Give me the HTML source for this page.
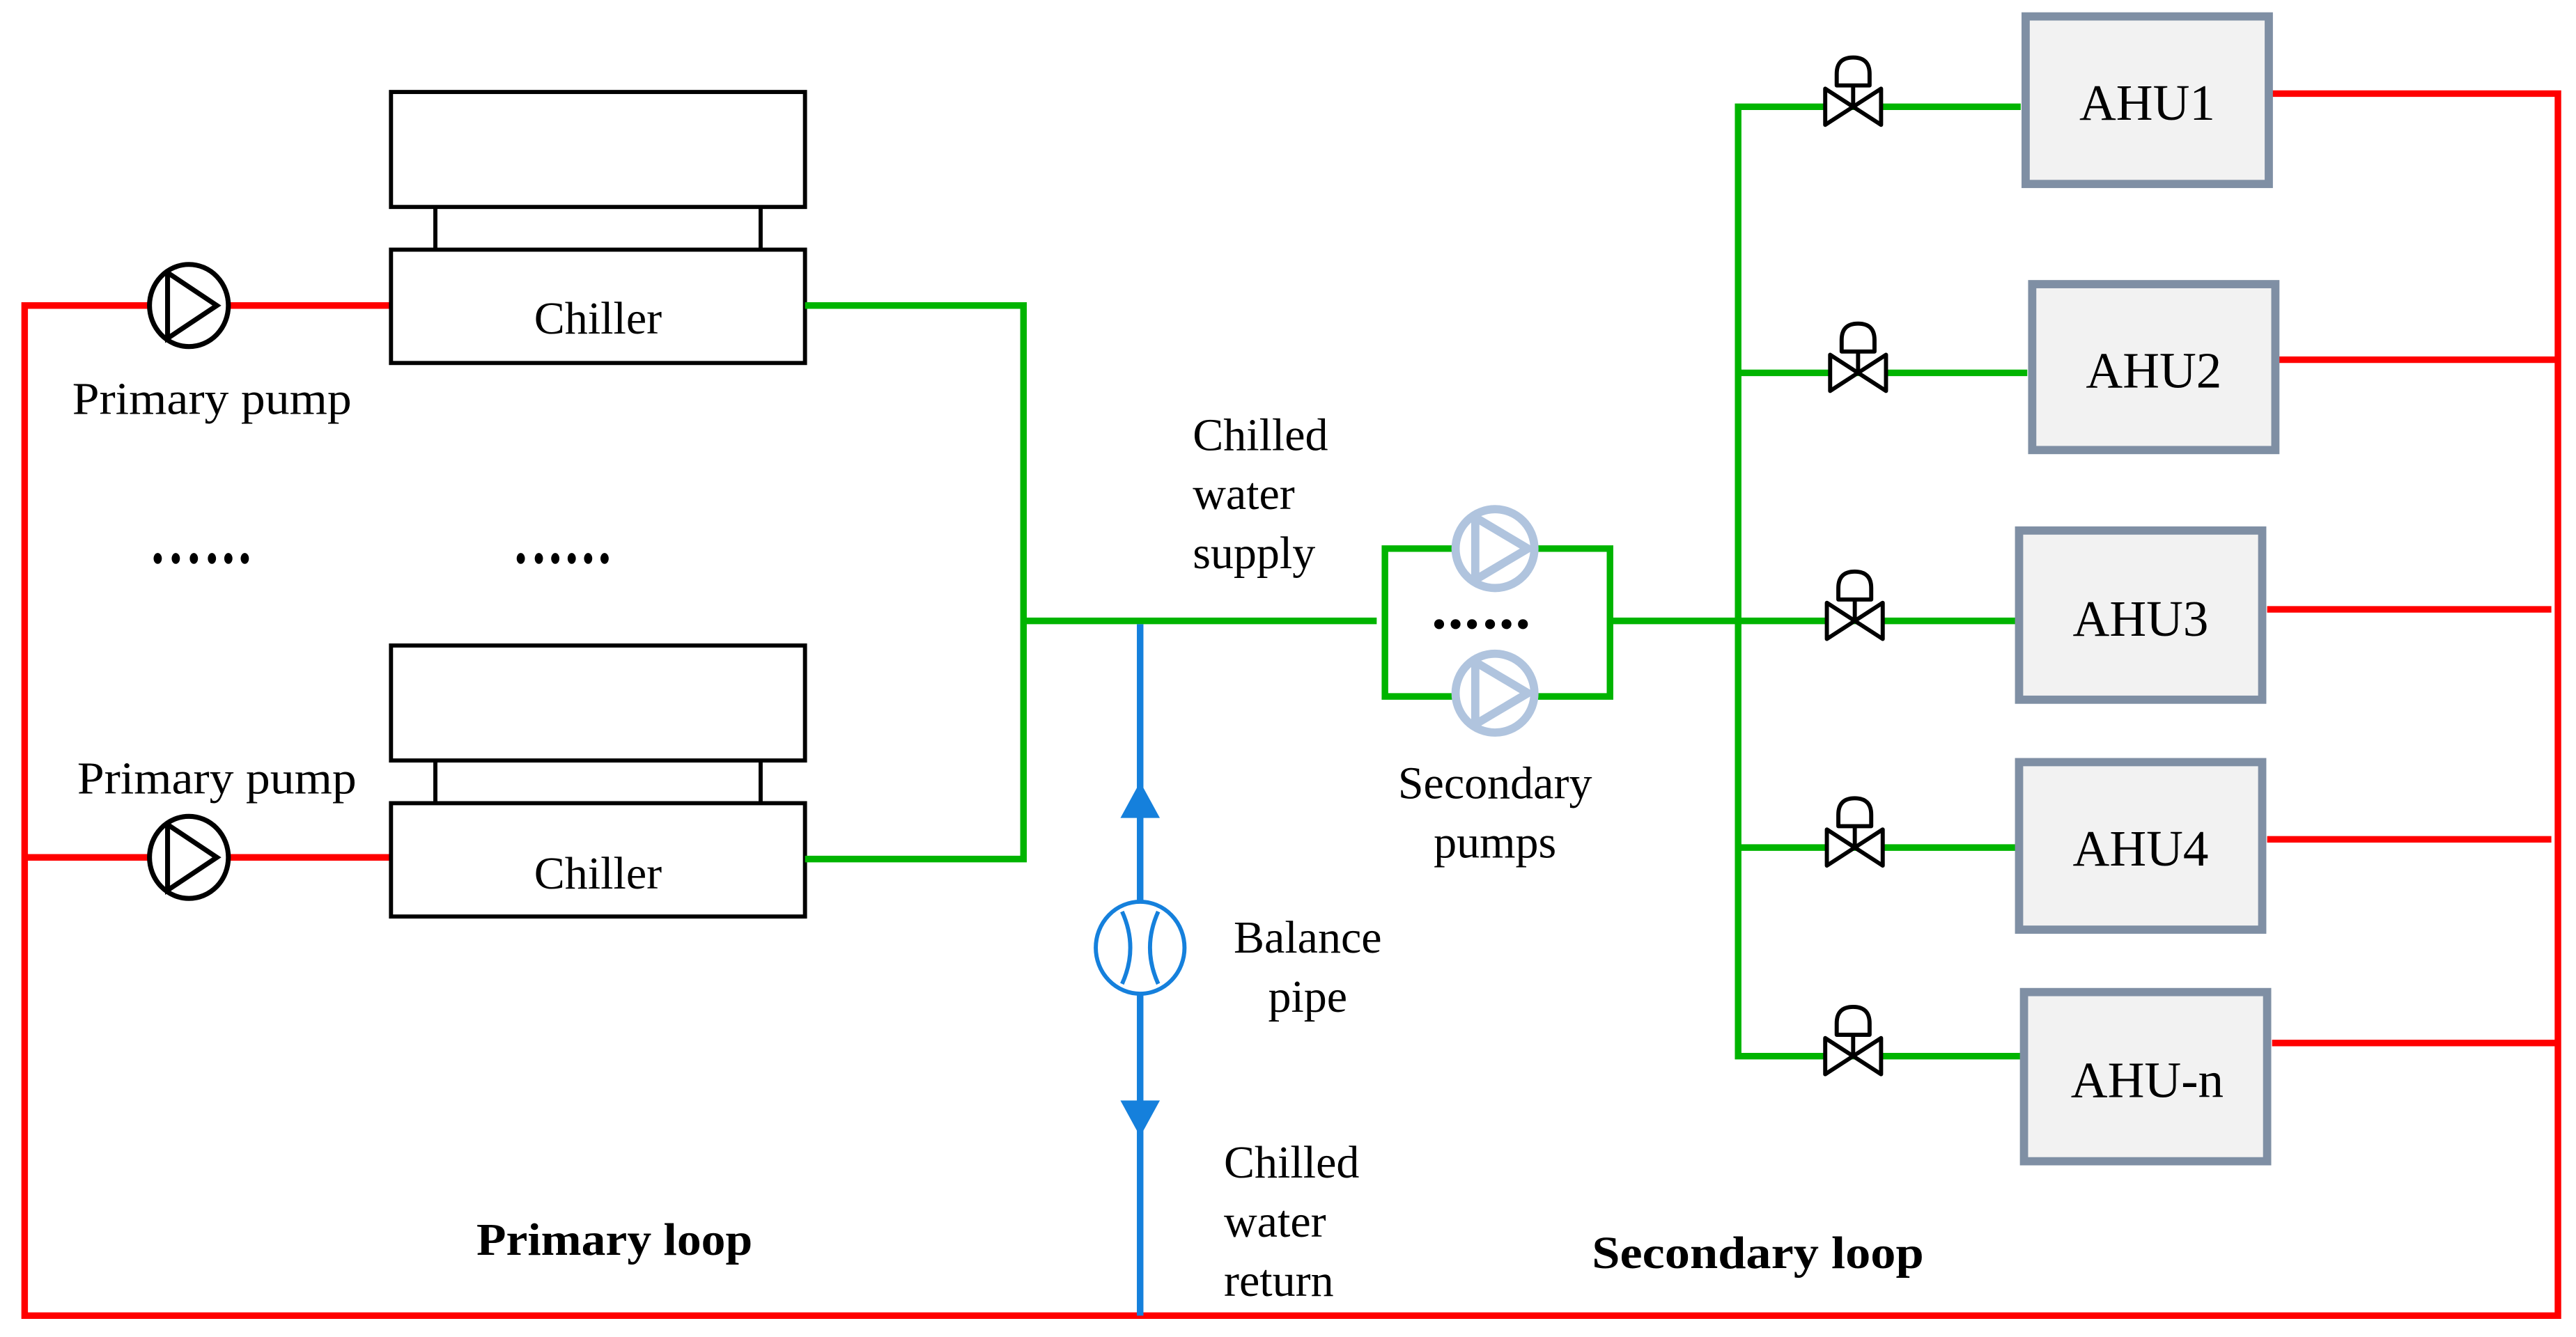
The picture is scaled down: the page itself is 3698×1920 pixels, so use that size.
<!DOCTYPE html>
<html><head><meta charset="utf-8"><style>
html,body{margin:0;padding:0;background:#fff;width:3698px;height:1920px;overflow:hidden}
svg{display:block}
text{font-family:"Liberation Serif",serif;fill:#000}
</style></head><body>
<svg width="3698" height="1920" viewBox="0 0 1568 814" preserveAspectRatio="none" xmlns="http://www.w3.org/2000/svg">
<defs>
<g id="valve" stroke="#000" stroke-width="2.5" fill="#fff" stroke-linejoin="round">
  <path d="M-17,-11 L17,11 L17,-11 L-17,11 Z"/>
  <line x1="0" y1="0" x2="0" y2="-13"/>
  <path d="M-10,-13 L-10,-20 Q-10,-30 0,-30 Q10,-30 10,-20 L10,-13 Z"/>
</g>
</defs>
<!-- red loop -->
<g stroke="#ff0000" stroke-width="4" fill="none">
  <polyline points="237,186 15,186 15,801 1557,801 1557,57 1383,57"/>
  <line x1="15" y1="522" x2="237" y2="522"/>
  <line x1="1387" y1="219" x2="1557" y2="219"/>
  <line x1="1380" y1="371" x2="1553" y2="371"/>
  <line x1="1380" y1="511" x2="1553" y2="511"/>
  <line x1="1383" y1="635" x2="1557" y2="635"/>
</g>
<!-- primary pumps -->
<g stroke="#000" stroke-width="3" fill="#fff">
  <ellipse cx="115" cy="186" rx="24" ry="25"/>
  <polyline points="102,166 132,186 102,206 102,166" fill="none"/>
  <ellipse cx="115" cy="522" rx="24" ry="25"/>
  <polyline points="102,502 132,522 102,542 102,502" fill="none"/>
</g>
<!-- chillers -->
<g stroke="#000" stroke-width="2.5" fill="#fff">
  <rect x="238" y="56" width="252" height="70"/>
  <line x1="265" y1="126" x2="265" y2="152"/><line x1="463" y1="126" x2="463" y2="152"/>
  <rect x="238" y="152" width="252" height="69"/>
  <rect x="238" y="393" width="252" height="70"/>
  <line x1="265" y1="463" x2="265" y2="489"/><line x1="463" y1="463" x2="463" y2="489"/>
  <rect x="238" y="489" width="252" height="69"/>
</g>
<text x="364" y="203" font-size="28" text-anchor="middle">Chiller</text>
<text x="364" y="541" font-size="28" text-anchor="middle">Chiller</text>
<!-- green -->
<g stroke="#00b400" stroke-width="4" fill="none">
  <polyline points="490,186 623,186 623,523 490,523"/>
  <line x1="623" y1="378" x2="838" y2="378"/>
  <polyline points="885,334 843,334 843,424 885,424"/>
  <polyline points="936,334 980,334 980,424 936,424"/>
  <line x1="980" y1="378" x2="1058" y2="378"/>
  <polyline points="1230,65 1058,65 1058,643 1230,643"/>
  <line x1="1058" y1="227" x2="1234" y2="227"/>
  <line x1="1058" y1="378" x2="1228" y2="378"/>
  <line x1="1058" y1="516" x2="1228" y2="516"/>
</g>
<!-- secondary pumps -->
<g stroke="#b0c4de" stroke-width="5" fill="#fff">
  <circle cx="910" cy="334" r="24"/>
  <polygon points="898,315 930,334 898,353" fill="none" stroke-linejoin="round"/>
  <circle cx="910" cy="422" r="24"/>
  <polygon points="898,403 930,422 898,441" fill="none" stroke-linejoin="round"/>
</g>
<!-- valves -->
<use href="#valve" x="1128" y="65"/>
<use href="#valve" x="1131" y="227"/>
<use href="#valve" x="1129" y="378"/>
<use href="#valve" x="1129" y="516"/>
<use href="#valve" x="1128" y="643"/>
<!-- AHUs -->
<g stroke="#7f8fa4" stroke-width="5" fill="#f2f2f2">
  <rect x="1233" y="10" width="148" height="102"/>
  <rect x="1237" y="173" width="148" height="101"/>
  <rect x="1229" y="323" width="148" height="103"/>
  <rect x="1229" y="464" width="148" height="102"/>
  <rect x="1232" y="604" width="148" height="103"/>
</g>
<g font-size="31" text-anchor="middle">
  <text x="1307" y="73">AHU1</text>
  <text x="1311" y="236">AHU2</text>
  <text x="1303" y="387">AHU3</text>
  <text x="1303" y="527">AHU4</text>
  <text x="1307" y="668">AHU-n</text>
</g>
<!-- blue balance pipe -->
<g stroke="#1580dc" fill="none">
  <line x1="694" y1="380" x2="694" y2="801" stroke-width="4"/>
  <ellipse cx="694" cy="577" rx="27" ry="28" fill="#fff" stroke-width="2.5"/>
  <path d="M683,555 Q693,577 683,599" stroke-width="2.5"/>
  <path d="M705,555 Q695,577 705,599" stroke-width="2.5"/>
</g>
<polygon points="694,476 682,498 706,498" fill="#1580dc"/>
<polygon points="682,670 706,670 694,692" fill="#1580dc"/>
<!-- dots -->
<g fill="#000">
  <ellipse cx="96" cy="340" rx="2.5" ry="3.3"/><ellipse cx="107" cy="340" rx="2.5" ry="3.3"/><ellipse cx="118" cy="340" rx="2.5" ry="3.3"/><ellipse cx="129" cy="340" rx="2.5" ry="3.3"/><ellipse cx="139" cy="340" rx="2.5" ry="3.3"/><ellipse cx="149" cy="340" rx="2.5" ry="3.3"/>
  <ellipse cx="317" cy="340" rx="2.5" ry="3.3"/><ellipse cx="328" cy="340" rx="2.5" ry="3.3"/><ellipse cx="338" cy="340" rx="2.5" ry="3.3"/><ellipse cx="348" cy="340" rx="2.5" ry="3.3"/><ellipse cx="358" cy="340" rx="2.5" ry="3.3"/><ellipse cx="368" cy="340" rx="2.5" ry="3.3"/>
  <circle cx="876" cy="380" r="3"/><circle cx="886" cy="380" r="3"/><circle cx="896" cy="380" r="3"/><circle cx="907" cy="380" r="3"/><circle cx="917" cy="380" r="3"/><circle cx="927" cy="380" r="3"/>
</g>
<!-- labels -->
<g font-size="28">
  <text x="44" y="252" textLength="170" lengthAdjust="spacingAndGlyphs">Primary pump</text>
  <text x="47" y="483" textLength="170" lengthAdjust="spacingAndGlyphs">Primary pump</text>
  <text x="726" y="274">Chilled</text>
  <text x="726" y="310">water</text>
  <text x="726" y="346">supply</text>
  <text x="910" y="486" text-anchor="middle">Secondary</text>
  <text x="910" y="522" text-anchor="middle">pumps</text>
  <text x="796" y="580" text-anchor="middle">Balance</text>
  <text x="796" y="616" text-anchor="middle">pipe</text>
  <text x="745" y="717">Chilled</text>
  <text x="745" y="753">water</text>
  <text x="745" y="789">return</text>
  <text x="290" y="764" font-weight="bold" textLength="168" lengthAdjust="spacingAndGlyphs">Primary loop</text>
  <text x="969" y="772" font-weight="bold" textLength="202" lengthAdjust="spacingAndGlyphs">Secondary  loop</text>
</g>
</svg>
</body></html>
